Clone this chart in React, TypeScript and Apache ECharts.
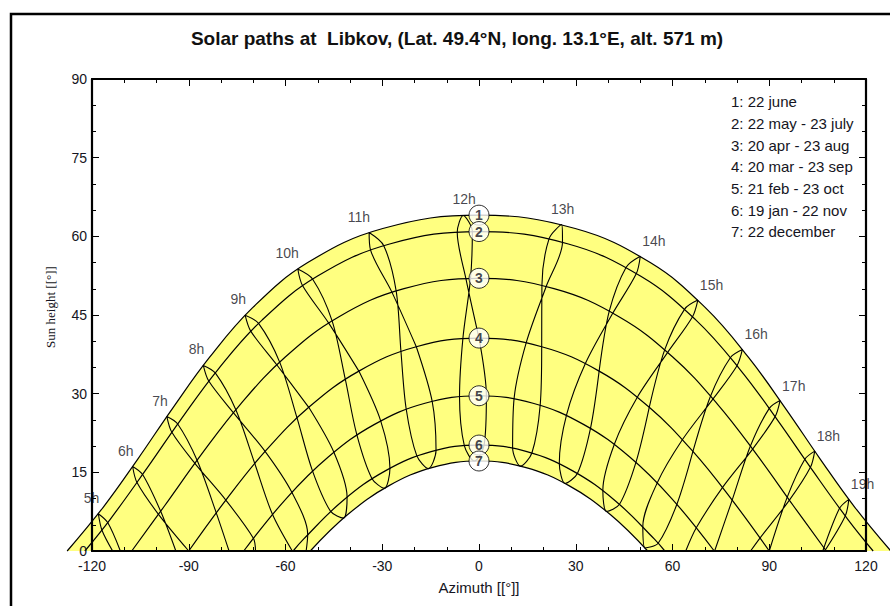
import React, { useEffect, useRef } from 'react';
import * as echarts from 'echarts';

const TITLE = 'Solar paths at  Libkov, (Lat. 49.4°N, long. 13.1°E, alt. 571 m)';
const X_NAME = 'Azimuth [[°]]';
const Y_NAME = 'Sun height [[°]]';

const legendLines = [
  '1: 22 june',
  '2: 22 may - 23 july',
  '3: 20 apr - 23 aug',
  '4: 20 mar - 23 sep',
  '5: 21 feb - 23 oct',
  '6: 19 jan - 22 nov',
  '7: 22 december',
];
const curveIds = ['1', '2', '3', '4', '5', '6', '7'];

// day paths [azimuth, sun height]
const dayJune = [[-127.7, 0], [-116.36, 8.48], [-105.75, 17.58], [-95.07, 27.16], [-83.58, 36.91], [-70.19, 46.4], [-53.1, 54.99], [-29.84, 61.49], [0, 64.04], [29.84, 61.49], [53.1, 54.99], [70.19, 46.4], [83.58, 36.91], [95.07, 27.16], [105.75, 17.58], [116.36, 8.48], [127.7, 0]];
const dayMay = [[-122.22, 0], [-114.35, 6.05], [-103.54, 15.27], [-92.62, 24.92], [-80.89, 34.65], [-67.28, 44.03], [-50.18, 52.37], [-27.71, 58.54], [0, 60.91], [27.71, 58.54], [50.18, 52.37], [67.28, 44.03], [80.89, 34.65], [92.62, 24.92], [103.54, 15.27], [114.35, 6.05], [122.22, 0]];
const dayApr = [[-107.68, 0], [-97.48, 8.63], [-86.13, 18.37], [-73.99, 27.97], [-60.16, 36.95], [-43.53, 44.63], [-23.26, 50.02], [0, 52.0], [23.26, 50.02], [43.53, 44.63], [60.16, 36.95], [73.99, 27.97], [86.13, 18.37], [97.48, 8.63], [107.68, 0]];
const dayMar = [[-90, 0], [-78.5, 9.7], [-66.33, 18.99], [-52.79, 27.4], [-37.25, 34.3], [-19.44, 38.95], [0, 40.6], [19.44, 38.95], [37.25, 34.3], [52.79, 27.4], [66.33, 18.99], [78.5, 9.7], [90, 0]];
const dayFeb = [[-72.95, 0], [-59.7, 10.05], [-46.83, 17.87], [-32.53, 24.1], [-16.75, 28.18], [0, 29.6], [16.75, 28.18], [32.53, 24.1], [46.83, 17.87], [59.7, 10.05], [72.95, 0]];
const dayJan = [[-57.62, 0], [-54.33, 2.31], [-42.23, 9.59], [-29.06, 15.28], [-14.86, 18.94], [0, 20.2], [14.86, 18.94], [29.06, 15.28], [42.23, 9.59], [54.33, 2.31], [57.62, 0]];
const dayDec = [[-52.32, 0], [-40.8, 6.9], [-28.02, 12.42], [-14.3, 15.95], [0, 17.16], [14.3, 15.95], [28.02, 12.42], [40.8, 6.9], [52.32, 0]];

// hour lines (legal time), [azimuth, sun height] through the year
const h05 = [[-111.2, 0], [-115.13, 5.42], [-118.04, 7.11], [-116.91, 3.97], [-113.6, 0]];
const h06 = [[-94.0, 0], [-98.71, 7.57], [-104.31, 14.59], [-107.4, 16.11], [-106.05, 13.05], [-99.38, 6.99], [-90, 0]];
const h07 = [[-77.5, 0], [-81.47, 7.28], [-87.41, 17.3], [-93.42, 24.22], [-96.79, 25.64], [-95.23, 22.64], [-88.1, 16.72], [-78.5, 9.7], [-69.96, 2.42], [-69.3, 0]];
const h08 = [[-57.9, 0], [-64.08, 7.04], [-69.56, 16.73], [-75.4, 26.94], [-81.78, 33.96], [-85.49, 35.39], [-83.8, 32.4], [-76.17, 26.37], [-66.33, 18.99], [-58.04, 11.19], [-53.11, 3.15], [-53.6, 0]];
const h09 = [[-52.79, 27.4], [-45.0, 18.83], [-40.9, 10.28], [-42.03, 6.26], [-46.06, 7.6], [-51.66, 15.33], [-56.45, 25.43], [-61.81, 36.02], [-68.35, 43.39], [-72.52, 44.96], [-70.79, 41.93], [-62.72, 35.51], [-52.79, 27.4]];
const h10 = [[-37.25, 34.3], [-30.49, 24.81], [-27.61, 15.78], [-29.35, 11.96], [-33.22, 13.84], [-37.91, 22.23], [-41.48, 32.8], [-45.55, 43.89], [-51.57, 51.83], [-56.19, 53.77], [-54.73, 50.62], [-46.65, 43.49], [-37.25, 34.3]];
const h11 = [[-19.44, 38.95], [-14.53, 28.56], [-13.32, 19.2], [-15.71, 15.71], [-19.3, 18.18], [-22.6, 27.17], [-24.21, 38.13], [-25.69, 49.6], [-29.53, 58.22], [-34.07, 60.73], [-33.66, 57.48], [-27.01, 49.36], [-19.44, 38.95]];
const h12 = [[0, 40.6], [2.29, 29.57], [1.58, 20.19], [-1.44, 17.15], [-4.55, 20.08], [-6.04, 29.42], [-5.0, 40.49], [-2.63, 51.98], [-2.06, 60.9], [-4.93, 63.98], [-6.75, 60.78], [-4.06, 51.94], [0, 40.6]];
const h13 = [[19.44, 38.95], [18.97, 27.8], [16.4, 18.68], [12.89, 16.19], [10.42, 19.7], [10.9, 29.19], [14.67, 39.77], [20.83, 50.44], [25.89, 58.86], [25.61, 62.25], [21.76, 59.6], [19.51, 50.68], [19.44, 38.95]];
const h14 = [[37.25, 34.3], [34.57, 23.39], [30.51, 14.78], [26.69, 12.88], [24.9, 16.72], [27.15, 25.97], [33.02, 35.8], [41.51, 45.37], [48.79, 52.91], [50.01, 56.21], [45.63, 54.12], [40.41, 45.77], [37.25, 34.3]];
const h15 = [[52.79, 27.4], [48.66, 16.91], [43.56, 8.9], [39.57, 7.54], [38.4, 11.58], [42.0, 20.41], [49.13, 29.37], [58.51, 37.88], [66.21, 44.67], [67.86, 47.84], [63.77, 46.13], [57.6, 38.39], [52.79, 27.4]];
const h16 = [[66.33, 18.99], [61.36, 8.91], [55.55, 1.47], [51.48, 0.58], [50.8, 4.72], [55.32, 13.06], [63.1, 21.25], [72.58, 29.0], [80.0, 35.34], [81.67, 38.43], [77.98, 36.9], [71.81, 29.57], [66.33, 18.99]];
const h17 = [[64.1, 0], [67.42, 4.47], [75.53, 12.12], [84.85, 19.44], [91.82, 25.62], [93.35, 28.68], [90.01, 27.2], [84.16, 20.02], [78.5, 9.7], [73.06, 0]];
const h18 = [[84.2, 0], [87.12, 2.47], [96.25, 9.69], [102.77, 15.95], [104.1, 19.05], [101.03, 17.49], [95.58, 10.27], [90, 0]];
const h19 = [[107.2, 0], [113.57, 6.68], [114.68, 9.85], [111.79, 8.13], [106.6, 0]];

const hourNames = ['5h', '6h', '7h', '8h', '9h', '10h', '11h', '12h', '13h', '14h', '15h', '16h', '17h', '18h', '19h'];
const hourLines = [h05, h06, h07, h08, h09, h10, h11, h12, h13, h14, h15, h16, h17, h18, h19];
const dayCurves = [dayJune, dayMay, dayApr, dayMar, dayFeb, dayJan, dayDec];

const FONT = '"Liberation Sans", Arial, sans-serif';
const TEXT = '#151522';
const YELLOW = '#FFFF80';

function topPoint(arr: number[][]) {
  let best = arr[0];
  for (const p of arr) if (p[1] > best[1]) best = p;
  return best;
}

function curveSeries(points: number[][], fill: string | null, z: number) {
  return {
    type: 'custom',
    coordinateSystem: 'cartesian2d',
    clip: false,
    silent: true,
    z,
    data: [points[0]],
    renderItem: (_params: any, api: any) => ({
      type: 'polyline',
      shape: { points: points.map((p) => api.coord(p)), smooth: 0.4 },
      style: { stroke: '#000', lineWidth: 1.2, fill: fill },
    }),
  };
}

export default function App() {
  const ref = useRef<HTMLDivElement>(null);
  useEffect(() => {
    document.body.style.margin = '0';
    const chart = echarts.init(ref.current!, null, { renderer: 'svg' });

    const tickCommon = {
      axisLine: { show: true, onZero: false, lineStyle: { color: '#000', width: 2.2 } },
      axisTick: { show: true, inside: true, length: 7, lineStyle: { color: '#000', width: 1 } },
      minorTick: { show: true, splitNumber: 3, length: 4, lineStyle: { color: '#000', width: 1 } },
      splitLine: { show: false },
      minorSplitLine: { show: false },
      z: 10,
    };
    const labelStyle = { fontSize: 14, color: TEXT, fontFamily: FONT };

    const series: any[] = [];
    // yellow band: area under june path, then white area under december path
    series.push(curveSeries(dayJune, YELLOW, 1));
    series.push(curveSeries(dayDec, '#ffffff', 1));
    dayCurves.slice(1, 6).forEach((d) => series.push(curveSeries(d, null, 3)));
    hourLines.forEach((h) => {
      series.push({
        type: 'line', data: h, smooth: 0.3, symbol: 'none', clip: false, z: 3, silent: true,
        lineStyle: { color: '#000', width: 1.1 },
      });
    });
    // hour labels
    series.push({
      type: 'scatter', clip: false, z: 6, silent: true, symbolSize: 1,
      itemStyle: { color: 'rgba(0,0,0,0)' },
      data: hourLines.map((h, i) => {
        const p = topPoint(h);
        const morning = i < 7;
        const noon = i === 7 || i === 8;
        return {
          value: p,
          label: {
            show: true, position: 'inside', formatter: hourNames[i],
            align: noon ? 'center' : morning ? 'right' : 'left',
            verticalAlign: 'middle',
            offset: noon ? [1, -16] : morning ? [1, -16] : [2, -15],
            fontSize: 14, color: TEXT, fontFamily: FONT,
          },
        };
      }),
    });
    // day path markers
    series.push({
      type: 'scatter', clip: false, z: 8, silent: true, symbol: 'circle', symbolSize: 20,
      itemStyle: { color: '#fff', borderColor: '#000', borderWidth: 1 },
      data: dayCurves.map((d, i) => ({ value: [0, topPoint(d)[1]], name: curveIds[i] })),
      label: {
        show: true, position: 'inside', formatter: (p: any) => p.name,
        fontSize: 14, fontWeight: 'bold', color: '#151522', fontFamily: FONT,
      },
    });

    const graphics: any[] = [
      { type: 'rect', z: -10, shape: { x: 11, y: 14, width: 900, height: 640 }, style: { fill: 'none', stroke: '#000', lineWidth: 2.5 } },
      { type: 'text', x: 457, y: 38, style: { text: TITLE, align: 'center', verticalAlign: 'middle', fontSize: 19, fontWeight: 'bold', fontFamily: FONT, fill: '#111' } },
      { type: 'text', x: 50, y: 307, rotation: Math.PI / 2, style: { text: Y_NAME, align: 'center', verticalAlign: 'middle', fontSize: 13, fontFamily: '"Liberation Serif", "Times New Roman", serif', fill: TEXT } },
      { type: 'text', x: 479, y: 587, style: { text: X_NAME, align: 'center', verticalAlign: 'middle', fontSize: 15, fontFamily: FONT, fill: TEXT } },
    ];
    legendLines.forEach((t, i) => {
      graphics.push({
        type: 'text', x: 731, y: 101.7 + i * 21.67, z: 20,
        style: { text: t, align: 'left', verticalAlign: 'middle', fontSize: 15, fontFamily: FONT, fill: TEXT },
      });
    });

    chart.setOption({
      animation: false,
      backgroundColor: '#fff',
      grid: { left: 92, right: 24, top: 79, bottom: 55, containLabel: false },
      xAxis: [
        { type: 'value', position: 'bottom', min: -120, max: 120, interval: 30, ...tickCommon,
          axisLabel: { ...labelStyle, margin: 8 } },
        { type: 'value', position: 'top', min: -120, max: 120, interval: 30, ...tickCommon,
          axisLabel: { show: false } },
      ],
      yAxis: [
        { type: 'value', position: 'left', min: 0, max: 90, interval: 15, ...tickCommon,
          axisLabel: { ...labelStyle, margin: 5 } },
        { type: 'value', position: 'right', min: 0, max: 90, interval: 15, ...tickCommon,
          axisLabel: { show: false } },
      ],
      series,
      graphic: graphics,
    });
    return () => chart.dispose();
  }, []);
  return <div ref={ref} style={{ width: 890, height: 606 }} />;
}
